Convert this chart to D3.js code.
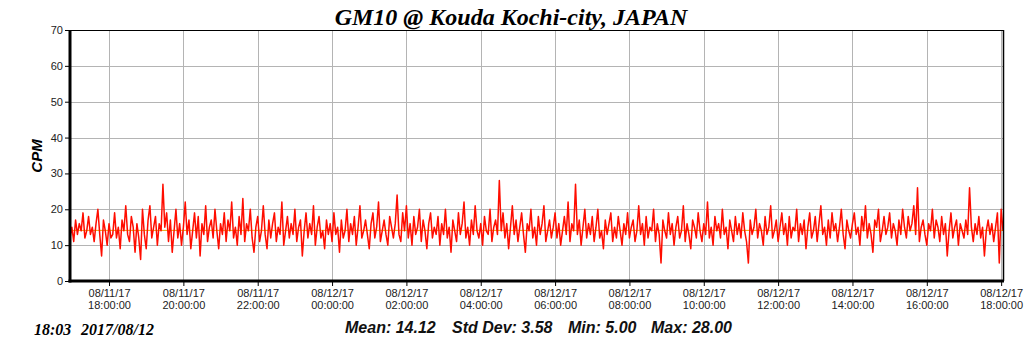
<!DOCTYPE html>
<html>
<head>
<meta charset="utf-8">
<script src="https://cdn.jsdelivr.net/npm/d3@7"></script>
<style>
  html, body { margin: 0; padding: 0; background: #fff; }
  svg { display: block; }
</style>
</head>
<body>
<div id="chart"></div>
<script>
// chart data
const chartTitle = 'GM10 @ Kouda Kochi-city, JAPAN';
const yLabel = 'CPM';
const stampText = ['18:03', '2017/08/12'];
const startTime = '2017-08-11T16:57:00';
const stepMinutes = 3;
const yTicks = [0, 10, 20, 30, 40, 50, 60, 70];
const xTickTimes = ['2017-08-11T18:00:00', '2017-08-11T20:00:00', '2017-08-11T22:00:00',
  '2017-08-12T00:00:00', '2017-08-12T02:00:00', '2017-08-12T04:00:00', '2017-08-12T06:00:00',
  '2017-08-12T08:00:00', '2017-08-12T10:00:00', '2017-08-12T12:00:00', '2017-08-12T14:00:00',
  '2017-08-12T16:00:00', '2017-08-12T18:00:00'];
const meanValue = 14.12;
const statLabels = ['Mean: 14.12', 'Std Dev: 3.58', 'Min: 5.00', 'Max: 28.00'];

// CPM readings, 3 minute steps
const cpm = [
  12,15,11,17,13,16,14,19,12,14,18,13,15,11,16,20,13,7,17,14,
  10,16,12,13,19,12,15,9,17,14,21,13,11,18,15,8,16,12,6,20,
  13,9,17,21,12,15,18,10,16,14,27,15,19,11,17,8,14,20,12,16,
  10,15,22,13,17,9,14,19,12,18,7,16,13,21,11,15,17,12,20,14,
  9,16,13,19,11,17,14,22,12,15,10,18,13,23,11,16,14,20,12,8,
  15,18,11,14,21,13,9,17,12,16,19,11,15,13,22,10,14,18,12,16,
  13,20,11,15,17,7,14,19,12,16,13,21,10,15,18,12,14,9,17,13,
  16,11,19,13,15,8,17,12,14,20,11,16,13,18,10,15,21,12,14,17,
  13,9,16,19,12,15,22,11,14,17,13,10,18,15,12,16,24,13,11,19,
  14,21,12,16,10,18,13,15,20,11,17,14,9,16,19,12,15,13,18,10,
  16,13,20,12,15,8,17,14,11,19,13,16,22,12,15,10,17,13,21,14,
  12,16,10,18,14,13,20,11,15,17,13,28,14,19,12,16,9,15,21,13,
  17,11,15,19,13,8,16,14,20,12,15,10,18,13,16,21,11,14,17,12,
  15,19,12,16,10,14,18,13,22,11,16,14,27,13,17,10,15,20,12,16,
  13,18,11,15,20,12,14,9,17,13,16,19,11,15,12,18,14,10,16,13,
  19,12,15,17,11,14,21,13,16,10,18,12,15,14,20,11,16,13,5,17,
  14,12,19,13,16,10,15,18,12,14,21,11,16,13,9,17,15,12,19,14,
  11,16,13,22,12,15,10,18,14,16,12,20,13,15,9,17,14,11,18,13,
  16,12,19,14,11,5,17,13,15,20,12,16,14,10,18,13,15,21,12,14,
  17,11,15,19,13,16,10,18,12,15,14,20,11,16,13,17,9,15,19,12,
  14,18,11,16,21,13,15,10,17,12,19,14,16,11,15,20,13,9,17,14,
  12,16,19,13,15,10,18,14,21,12,16,13,8,17,15,20,11,14,18,13,
  15,19,12,16,14,10,17,13,20,15,12,18,14,16,21,13,26,11,15,17,
  13,10,16,14,20,12,17,15,11,18,13,16,7,14,19,12,15,17,10,16,
  14,12,17,13,26,15,11,16,13,18,12,15,7,14,17,13,16,11,15,19,
  5,20,14
];

const W = 1024, H = 351;
const plot = {left: 70, right: 1003, top: 30, bottom: 281};

const t0 = new Date(startTime);
const data = cpm.map((v, i) => ({t: new Date(t0.getTime() + i * stepMinutes * 60000), v}));

const svg = d3.select('#chart').append('svg')
  .attr('width', W).attr('height', H);

const x = d3.scaleTime()
  .domain([t0, data[data.length - 1].t])
  .range([plot.left, plot.right]);
const y = d3.scaleLinear()
  .domain([0, 70])
  .range([plot.bottom, plot.top]);

const xTicks = xTickTimes.map(s => new Date(s));

// grid
svg.append('g')
  .selectAll('line.h')
  .data(yTicks.slice(1))
  .join('line')
  .attr('x1', plot.left).attr('x2', plot.right)
  .attr('y1', d => Math.round(y(d)) + 0.5).attr('y2', d => Math.round(y(d)) + 0.5)
  .attr('stroke', '#b4b4b4').attr('stroke-width', 1);
svg.append('g')
  .selectAll('line.v')
  .data(xTicks)
  .join('line')
  .attr('x1', d => Math.round(x(d)) + 0.5).attr('x2', d => Math.round(x(d)) + 0.5)
  .attr('y1', plot.top).attr('y2', plot.bottom)
  .attr('stroke', '#b4b4b4').attr('stroke-width', 1);

// mean line
svg.append('line')
  .attr('x1', plot.left).attr('x2', plot.right)
  .attr('y1', y(meanValue)).attr('y2', y(meanValue))
  .attr('stroke', '#e8a000').attr('stroke-width', 1);

// series
svg.append('path')
  .datum(data)
  .attr('fill', 'none')
  .attr('stroke', '#ff0d00')
  .attr('stroke-width', 1.5)
  .attr('stroke-linejoin', 'round')
  .attr('d', d3.line().x(d => x(d.t)).y(d => y(d.v)));

// frame
svg.append('line')
  .attr('x1', plot.left).attr('x2', plot.right)
  .attr('y1', plot.top + 0.5).attr('y2', plot.top + 0.5)
  .attr('stroke', '#000').attr('stroke-width', 1);
svg.append('line')
  .attr('x1', plot.right + 0.5).attr('x2', plot.right + 0.5)
  .attr('y1', plot.top).attr('y2', plot.bottom)
  .attr('stroke', '#000').attr('stroke-width', 1.5);

// y axis
const yAxis = svg.append('g')
  .attr('transform', `translate(${plot.left},0)`)
  .call(d3.axisLeft(y).tickValues(yTicks).tickSize(5).tickPadding(2));
yAxis.select('.domain').attr('stroke-width', 3).attr('d', `M0,${plot.top}V${plot.bottom + 1.5}`);
yAxis.selectAll('text')
  .attr('font-family', 'Liberation Sans, Arial, sans-serif')
  .attr('font-size', 11).attr('fill', '#222');

// x axis
const fmtDate = d3.timeFormat('%m/%d/%y');
const fmtTime = d3.timeFormat('%H:%M:%S');
const xAxis = svg.append('g')
  .attr('transform', `translate(0,${plot.bottom})`)
  .call(d3.axisBottom(x).tickValues(xTicks).tickSize(5).tickFormat(''));
xAxis.select('.domain').attr('stroke-width', 3).attr('d', `M${plot.left - 1.5},0H${plot.right + 1}`);
xAxis.selectAll('.tick').each(function(d) {
  const t = d3.select(this).append('text')
    .attr('fill', '#222')
    .attr('font-family', 'Liberation Sans, Arial, sans-serif')
    .attr('font-size', 11)
    .attr('text-anchor', 'middle');
  t.append('tspan').attr('x', 0).attr('y', 16).text(fmtDate(d));
  t.append('tspan').attr('x', 0).attr('y', 28).text(fmtTime(d));
});

// title
svg.append('text')
  .attr('x', 511).attr('y', 25)
  .attr('text-anchor', 'middle')
  .attr('font-family', 'Liberation Serif, Times New Roman, serif')
  .attr('font-weight', 'bold').attr('font-style', 'italic')
  .attr('font-size', 24)
  .text(chartTitle);

// y label
svg.append('text')
  .attr('transform', 'translate(42,156) rotate(-90)')
  .attr('text-anchor', 'middle')
  .attr('font-family', 'Liberation Sans, Arial, sans-serif')
  .attr('font-weight', 'bold').attr('font-style', 'italic')
  .attr('font-size', 15)
  .text(yLabel);

// time stamp, bottom left
svg.append('g')
  .selectAll('text')
  .data(stampText)
  .join('text')
  .attr('x', (d, i) => [34, 81][i]).attr('y', 335)
  .attr('font-family', 'Liberation Serif, Times New Roman, serif')
  .attr('font-weight', 'bold').attr('font-style', 'italic')
  .attr('font-size', 16)
  .text(d => d);

// statistics
svg.append('g')
  .selectAll('text')
  .data(statLabels)
  .join('text')
  .attr('x', (d, i) => [345, 452, 568, 651][i]).attr('y', 333)
  .attr('font-family', 'Liberation Sans, Arial, sans-serif')
  .attr('font-weight', 'bold').attr('font-style', 'italic')
  .attr('font-size', 16)
  .attr('fill', '#111')
  .text(d => d);
</script>
</body>
</html>
